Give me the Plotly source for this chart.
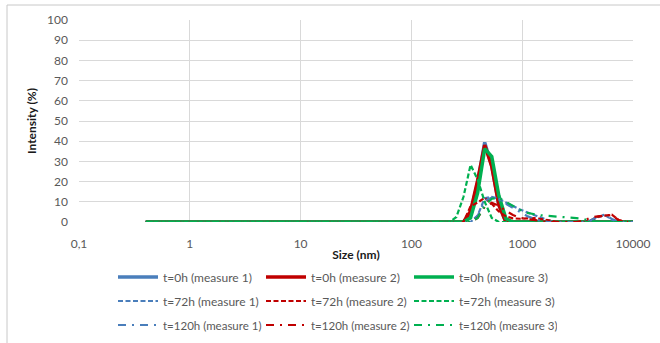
import plotly.graph_objects as go

# DLS size classes (nm)
sizes = [0.4, 0.4632, 0.5365, 0.6213, 0.7195, 0.8332, 0.9649, 1.117, 1.294, 1.499,
         1.736, 2.01, 2.328, 2.696, 3.122, 3.615, 4.187, 4.849, 5.615, 6.503,
         7.531, 8.721, 10.1, 11.7, 13.54, 15.69, 18.17, 21.04, 24.36, 28.21,
         32.67, 37.84, 43.82, 50.75, 58.77, 68.06, 78.82, 91.28, 105.7, 122.4,
         141.8, 164.2, 190.1, 220.2, 255, 295.3, 342, 396.1, 458.7, 531.2,
         615.1, 712.4, 825, 955.4, 1106, 1281, 1484, 1718, 1990, 2305,
         2669, 3091, 3580, 4145, 4801, 5560, 6439, 7456, 8635, 10000]

# Intensity (%) per size class; classes below 220 nm are empty
t0_m1 = [0] * 43 + [0, 0, 0, 4.6, 19.5, 39.4, 27.8, 8.7, 0, 0, 0, 0, 0, 0,
                    0, 0, 0, 0, 0, 0, 0, 0, 0, 0, 0, 0, 0]
t0_m2 = [0] * 43 + [0, 0, 0, 5.4, 20.6, 38.1, 27.5, 8.4, 0, 0, 0, 0, 0, 0,
                    0, 0, 0, 0, 0, 0, 0, 0, 0, 0, 0, 0, 0]
t0_m3 = [0] * 43 + [0, 0, 0, 2.1, 14.4, 36.3, 32.4, 13.1, 1.7, 0, 0, 0, 0, 0,
                    0, 0, 0, 0, 0, 0, 0, 0, 0, 0, 0, 0, 0]
t72_m1 = [0] * 43 + [0, 0, 0, 0, 3.2, 11.8, 12.4, 11.5, 9.6, 7.8, 6.2, 4.8, 3.4, 2.0,
                     0.8, 0, 0, 0, 0, 0, 0.6, 2.4, 3.5, 1.2, 0, 0, 0]
t72_m2 = [0] * 43 + [0, 0, 0, 7.8, 9.6, 12.0, 9.0, 5.2, 2.8, 1.8, 1.6, 1.8, 1.9, 1.5,
                     0.8, 0.2, 0, 0, 0, 0, 0.8, 2.6, 3.2, 3.6, 0.9, 0, 0]
t72_m3 = [0] * 43 + [0, 2.5, 12.5, 28.3, 21.0, 10.0, 2.0, 0, 0, 0, 0, 0, 0, 0,
                     0, 0, 0, 0, 0, 0, 0, 0, 0, 0, 0, 0, 0]
t120_m1 = [0] * 43 + [0, 0, 0, 0, 3.0, 10.5, 12.0, 11.0, 9.0, 7.0, 5.0, 3.0, 1.5, 0.5,
                      0, 0, 0, 0, 0, 0, 0.8, 2.8, 3.6, 1.5, 0, 0, 0]
t120_m2 = [0] * 43 + [0, 0, 0, 0, 2.0, 7.5, 9.5, 8.0, 5.5, 3.5, 2.0, 1.5, 1.2, 0.5,
                      0, 0, 0, 0, 0, 0.6, 2.2, 2.8, 3.2, 3.5, 0.8, 0, 0]
t120_m3 = [0] * 43 + [0, 0, 0, 0, 2.0, 8.0, 11.5, 12.0, 10.0, 8.0, 6.0, 4.5, 3.8, 3.3,
                      3.0, 2.8, 2.5, 2.2, 1.9, 1.5, 0.5, 0, 0, 0, 0, 0, 0]

labels = ["t=0h (measure 1)", "t=0h (measure 2)", "t=0h (measure 3)",
          "t=72h (measure 1)", "t=72h (measure 2)", "t=72h (measure 3)",
          "t=120h (measure 1)", "t=120h (measure 2)", "t=120h (measure 3)"]
series = [t0_m1, t0_m2, t0_m3, t72_m1, t72_m2, t72_m3, t120_m1, t120_m2, t120_m3]

x_tickvals = [0.1, 1, 10, 100, 1000, 10000]
x_ticktext = ["0,1", "1", "10", "100", "1000", "10000"]

colors = ["#4A7EBB", "#C00000", "#00B050"]
dashes = ["solid", "5px,2.5px", "8px,6px,2px,6px"]
widths = [3.5, 2.2, 2.2]
legend_ids = ["legend", "legend2", "legend3"]

FONT = "Lato, 'Liberation Sans', Arial, sans-serif"
GREY = "#595959"

fig = go.Figure()
for i, (name, y) in enumerate(zip(labels, series)):
    row, col = divmod(i, 3)
    fig.add_trace(go.Scatter(
        x=sizes, y=y, mode="lines", name=name,
        line=dict(color=colors[col], width=widths[row], dash=dashes[row]),
        legend=legend_ids[row],
    ))

W, H = 660, 343
L, R, T, B = 79, 27, 20, 121
pw, ph = W - L - R, H - T - B


def px_x(p):
    return (p - L) / pw


def px_y(p):
    return (H - B - p) / ph


legend_common = dict(
    orientation="h", xanchor="left", yanchor="middle",
    x=px_x(113), entrywidth=93, entrywidthmode="pixels",
    font=dict(family=FONT, size=12, color=GREY),
    bgcolor="rgba(0,0,0,0)", itemwidth=40,
)

fig.update_layout(
    width=W, height=H,
    margin=dict(l=L, r=R, t=T, b=B, autoexpand=False),
    paper_bgcolor="white", plot_bgcolor="white",
    font=dict(family=FONT, size=12, color=GREY),
    showlegend=True,
    legend=dict(legend_common, y=px_y(277)),
    legend2=dict(legend_common, y=px_y(301)),
    legend3=dict(legend_common, y=px_y(325),
                 font=dict(family=FONT, size=11.5, color=GREY)),
    xaxis=dict(
        type="log", range=[-1, 4],
        tickvals=x_tickvals, ticktext=x_ticktext,
        showgrid=True, gridcolor="#D9D9D9", gridwidth=1,
        zeroline=False, showline=False, ticks="",
        ticklabelstandoff=13,
        tickfont=dict(family=FONT, size=12, color=GREY),
        title=dict(text="<b>Size (nm)</b>", standoff=0,
                   font=dict(family=FONT, size=12, color="#1a1a1a")),
    ),
    yaxis=dict(
        range=[0, 100], dtick=10,
        showgrid=True, gridcolor="#D9D9D9", gridwidth=1,
        zeroline=False, showline=False, ticks="",
        ticklabelstandoff=10,
        tickfont=dict(family=FONT, size=12, color=GREY),
        title=dict(text="<b>Intensity (%)</b>", standoff=7,
                   font=dict(family=FONT, size=12, color="#1a1a1a")),
    ),
    shapes=[dict(
        type="rect", xref="paper", yref="paper", layer="below",
        x0=px_x(7), x1=px_x(W + 20), y0=px_y(H + 20), y1=px_y(5),
        line=dict(color="#C8C8C8", width=1), fillcolor="rgba(0,0,0,0)",
    )],
)

fig.write_html("out.html")
